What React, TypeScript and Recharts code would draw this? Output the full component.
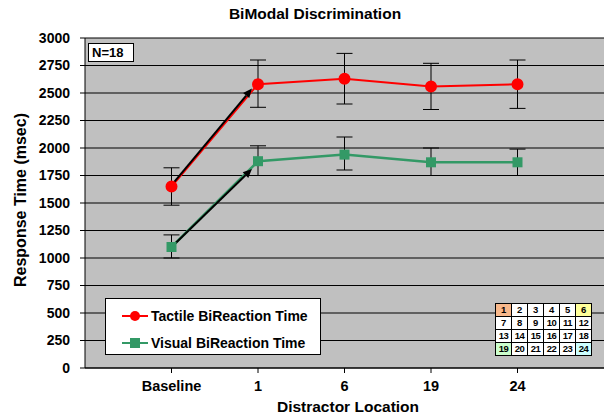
import React from "react";
import {
  LineChart,
  Line,
  XAxis,
  YAxis,
  CartesianGrid,
  ErrorBar,
  ReferenceLine,
} from "recharts";

const categories = ["Baseline", "1", "6", "19", "24"];
const tactileMean = [1650, 2580, 2630, 2560, 2580];
const tactileLow = [1480, 2370, 2400, 2350, 2360];
const tactileHigh = [1820, 2800, 2860, 2770, 2800];
const visualMean = [1100, 1880, 1940, 1870, 1870];
const visualLow = [1000, 1750, 1800, 1750, 1750];
const visualHigh = [1210, 2020, 2100, 2000, 1990];
const yTicks = [0, 250, 500, 750, 1000, 1250, 1500, 1750, 2000, 2250, 2500, 2750, 3000];
const locationGrid = [
  ["1", "2", "3", "4", "5", "6"],
  ["7", "8", "9", "10", "11", "12"],
  ["13", "14", "15", "16", "17", "18"],
  ["19", "20", "21", "22", "23", "24"],
];
const cellColors: Record<string, string> = {
  "1": "#f8b88b",
  "6": "#ffff99",
  "19": "#ccffcc",
  "24": "#ccffff",
};

const data = categories.map((c, i) => ({
  x: i + 1,
  tactile: tactileMean[i],
  tactileErr: [tactileMean[i] - tactileLow[i], tactileHigh[i] - tactileMean[i]],
  visual: visualMean[i],
  visualErr: [visualMean[i] - visualLow[i], visualHigh[i] - visualMean[i]],
}));

const FONT = "'Liberation Sans', Arial, sans-serif";

function SquareDot(props: any) {
  const { cx, cy } = props;
  if (cx == null || cy == null) return null;
  return <rect x={cx - 5} y={cy - 5} width={10} height={10} fill="#339966" />;
}

function Arrow(props: any) {
  const { x1, y1, x2, y2 } = props;
  if (x1 == null) return null;
  const ang = Math.atan2(y2 - y1, x2 - x1);
  const len = 9;
  const w = 4;
  const bx = x2 - len * Math.cos(ang);
  const by = y2 - len * Math.sin(ang);
  const px = -Math.sin(ang) * w;
  const py = Math.cos(ang) * w;
  return (
    <g>
      <line x1={x1} y1={y1} x2={bx} y2={by} stroke="#000" strokeWidth={2} />
      <polygon points={`${x2},${y2} ${bx + px},${by + py} ${bx - px},${by - py}`} fill="#000" />
    </g>
  );
}

export default function App() {
  return (
    <div style={{ position: "absolute", left: 0, top: 0, width: 605, height: 417, background: "#fff", fontFamily: FONT }}>
      <div style={{ position: "absolute", left: 0, width: 630, top: 5, textAlign: "center", fontWeight: "bold", fontSize: 15.5 }}>
        BiModal Discrimination
      </div>
      <LineChart width={605} height={417} data={data} margin={{ top: 38, right: 1, bottom: 19, left: 0 }}>
        <CartesianGrid vertical={false} stroke="#000" strokeWidth={1} fill="#c0c0c0" fillOpacity={1} />
        <XAxis
          type="number"
          dataKey="x"
          domain={[0, 6]}
          ticks={[1, 2, 3, 4, 5]}
          tickFormatter={(v: number) => categories[v - 1] ?? ""}
          height={30}
          stroke="#000"
          tickSize={5}
          tickMargin={8}
          tick={{ fill: "#000", fontSize: 14.5, fontWeight: "bold", fontFamily: FONT }}
        />
        <YAxis
          domain={[0, 3000]}
          ticks={yTicks}
          width={85}
          stroke="#000"
          tickSize={5}
          tickMargin={10}
          tick={{ fill: "#000", fontSize: 14, fontWeight: "bold", fontFamily: FONT }}
        />
        <Line
          dataKey="tactile"
          stroke="#ff0000"
          strokeWidth={2}
          dot={{ r: 5, fill: "#ff0000", stroke: "#ff0000" }}
          isAnimationActive={false}
        >
          <ErrorBar dataKey="tactileErr" width={8} stroke="#000" strokeWidth={1} direction="y" />
        </Line>
        <Line
          dataKey="visual"
          stroke="#339966"
          strokeWidth={2.5}
          dot={<SquareDot />}
          isAnimationActive={false}
        >
          <ErrorBar dataKey="visualErr" width={8} stroke="#000" strokeWidth={1} direction="y" />
        </Line>
        <ReferenceLine segment={[{ x: 1.03, y: 1690 }, { x: 1.93, y: 2540 }]} shape={<Arrow />} ifOverflow="visible" />
        <ReferenceLine segment={[{ x: 1.04, y: 1130 }, { x: 1.93, y: 1810 }]} shape={<Arrow />} ifOverflow="visible" />
      </LineChart>
      <div
        style={{
          position: "absolute", left: 21, top: 200, width: 0, height: 0, overflow: "visible",
        }}
      >
        <div
          style={{
            position: "absolute", left: -150, top: -10, width: 300, height: 20, lineHeight: "20px",
            textAlign: "center", transform: "rotate(-90deg)", fontWeight: "bold", fontSize: 16,
          }}
        >
          Response Time (msec)
        </div>
      </div>
      <div style={{ position: "absolute", left: 0, width: 696, top: 398, textAlign: "center", fontWeight: "bold", fontSize: 15.5 }}>
        Distractor Location
      </div>
      <div
        style={{
          position: "absolute", left: 88, top: 43, width: 41, height: 17, border: "1px solid #000",
          background: "#fff", fontWeight: "bold", fontSize: 13, lineHeight: "17px", paddingLeft: 3, boxSizing: "content-box",
        }}
      >
        N=18
      </div>
      <div
        style={{
          position: "absolute", left: 105, top: 298, width: 214, height: 55, border: "1px solid #000",
          background: "#fff", fontWeight: "bold", fontSize: 14,
        }}
      >
        {[
          { label: "Tactile BiReaction Time", color: "#ff0000", square: false, top: 9 },
          { label: "Visual BiReaction Time", color: "#339966", square: true, top: 36 },
        ].map((e) => (
          <div key={e.label} style={{ position: "absolute", left: 15, top: e.top, height: 16, display: "flex", alignItems: "center" }}>
            <svg width={28} height={12} style={{ marginRight: 2 }}>
              <line x1={1} y1={6} x2={27} y2={6} stroke={e.color} strokeWidth={2} />
              {e.square ? (
                <rect x={9} y={1} width={10} height={10} fill={e.color} />
              ) : (
                <circle cx={14} cy={6} r={5} fill={e.color} />
              )}
            </svg>
            <span>{e.label}</span>
          </div>
        ))}
      </div>
      <table
        style={{
          position: "absolute", left: 495, top: 303, borderCollapse: "collapse", background: "#fff",
          fontSize: 9.5, fontWeight: "bold", fontFamily: FONT,
        }}
      >
        <tbody>
          {locationGrid.map((row, ri) => (
            <tr key={ri}>
              {row.map((c) => (
                <td
                  key={c}
                  style={{
                    border: "1px solid #000", width: 15, height: 12, padding: 0, textAlign: "center",
                    background: cellColors[c] ?? "#fff", lineHeight: "12px", letterSpacing: -0.5,
                  }}
                >
                  {c}
                </td>
              ))}
            </tr>
          ))}
        </tbody>
      </table>
    </div>
  );
}
